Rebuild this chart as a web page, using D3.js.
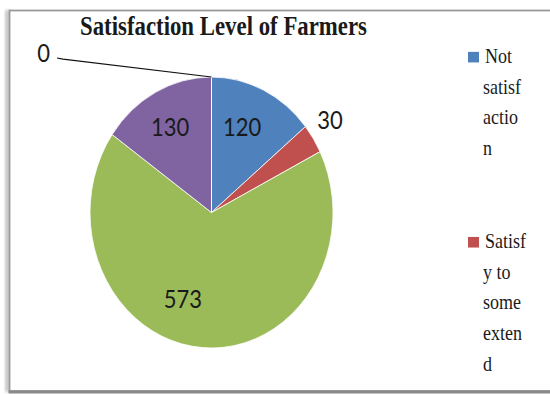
<!DOCTYPE html>
<html>
<head>
<meta charset="utf-8">
<script src="https://cdn.jsdelivr.net/npm/d3@7"></script>
<style>
  html, body { margin: 0; padding: 0; background: #fff; }
  svg { display: block; }
</style>
</head>
<body>
<svg id="chart" width="550" height="394"></svg>
<script>
// Survey counts, one per satisfaction category (clockwise from 12 o'clock)
const categories = ["Not satisfaction", "Satisfy to some extend", "Satisfied", "Highly satisfied", "No response"];
const values = [120, 30, 573, 130, 0];
const colors = ["#4F81BD", "#C0504D", "#9BBB59", "#8064A2", "#F79646"];
const title = "Satisfaction Level of Farmers";

const W = 550, H = 394;
const ky = 1.115;               // the whole chart is drawn slightly stretched vertically
const cx = 211.5, cy = 190.6, r = 121.5;
const frameBottom = 392;

const svg = d3.select("#chart");

// frame with a soft shadow on the left
const defs = svg.append("defs");
defs.append("filter").attr("id", "soft")
  .append("feGaussianBlur").attr("stdDeviation", 1.6);
svg.append("rect").attr("x", 5).attr("y", 10).attr("width", 5).attr("height", 382)
  .attr("fill", "#c8c8c8").attr("filter", "url(#soft)");
svg.append("rect").attr("x", 9.5).attr("y", 10.5).attr("width", W).attr("height", frameBottom - 11.5)
  .attr("fill", "#fff").attr("stroke", "#9a9a9a").attr("stroke-width", 1.8);
svg.append("line").attr("x1", 8.5).attr("x2", W).attr("y1", frameBottom).attr("y2", frameBottom)
  .attr("stroke", "#8a8a8a").attr("stroke-width", 3);

const g = svg.append("g").attr("transform", `scale(1,${ky})`);

// title
g.append("text")
  .attr("x", 223.5).attr("y", 31.4)
  .attr("text-anchor", "middle")
  .attr("font-family", "'Liberation Serif', 'Times New Roman', serif")
  .attr("font-weight", "bold")
  .attr("font-size", 24)
  .attr("textLength", 287).attr("lengthAdjust", "spacingAndGlyphs")
  .attr("fill", "#1a1a1a")
  .text(title);

// pie
const arcs = d3.pie().sort(null).value(d => d)(values);
const arc = d3.arc().innerRadius(0).outerRadius(r);
const pieG = g.append("g").attr("transform", `translate(${cx},${cy})`);
pieG.selectAll("path").data(arcs).join("path")
  .attr("d", arc)
  .attr("fill", (d, i) => colors[i])
  .attr("stroke", "#fff")
  .attr("stroke-width", 0.8)
  .attr("vector-effect", "non-scaling-stroke");

// data labels: angle shift (deg) from slice middle and radius factor
const labelPlace = [
  { shift: -3.6, k: 0.68 },
  { shift: -1.9, k: 1.19 },
  { shift: 16, k: 0.68 },
  { shift: -1, k: 0.716 },
  { dx: -168, dy: -142.6 }
];
function labelPos(d, i) {
  const p = labelPlace[i];
  const mid = (d.startAngle + d.endAngle) / 2;
  if (p.dx !== undefined) {
    const ex = r * Math.sin(mid), ey = -r * Math.cos(mid);
    return [p.dx, p.dy, ex, ey];
  }
  const a = mid + p.shift * Math.PI / 180;
  const rr = r * p.k;
  return [rr * Math.sin(a), -rr * Math.cos(a)];
}

arcs.forEach((d, i) => {
  const pos = labelPos(d, i);
  if (pos.length === 4) {
    // leader line from label to the slice edge
    const [lx, ly, ex, ey] = pos;
    pieG.append("path")
      .attr("d", d3.line()([[lx + 13.5, ly + 4], [lx + 19.5, ly + 5], [ex, ey]]))
      .attr("fill", "none").attr("stroke", "#111").attr("stroke-width", 1.1)
      .attr("vector-effect", "non-scaling-stroke");
  }
  pieG.append("text")
    .attr("x", pos[0]).attr("y", pos[1])
    .attr("dy", "0.36em")
    .attr("text-anchor", "middle")
    .attr("font-family", "Lato, 'Open Sans', sans-serif")
    .attr("font-size", 22)
    .attr("fill", "#1a1a1a")
    .text(values[i]);
});

// legend with narrow wrapped labels; items past the frame's bottom are not shown
const legendFont = "'Liberation Serif', 'Times New Roman', serif";
const legendSize = 18, legendMaxW = 42.5, lineH = 27.5, itemStep = 166;
const probe = g.append("text").attr("font-family", legendFont).attr("font-size", legendSize)
  .attr("visibility", "hidden");
const measure = s => { probe.text(s); return probe.node().getComputedTextLength(); };

function wrap(text) {
  const lines = [];
  let line = "";
  for (const w of text.split(" ")) {
    const cand = line ? line + " " + w : w;
    if (measure(cand) <= legendMaxW) { line = cand; continue; }
    if (line) lines.push(line);
    line = "";
    if (measure(w) <= legendMaxW) { line = w; continue; }
    let chunk = "";
    for (const ch of w) {
      if (measure(chunk + ch) <= legendMaxW) chunk += ch;
      else { lines.push(chunk); chunk = ch; }
    }
    line = chunk;
  }
  if (line) lines.push(line);
  return lines;
}

const maxBaseline = (frameBottom - 6) / ky;
categories.forEach((c, i) => {
  const base = 56.5 + i * itemStep;
  if (base > maxBaseline) return;
  g.append("rect")
    .attr("x", 468).attr("y", base - 10)
    .attr("width", 11).attr("height", 9.5)
    .attr("fill", colors[i]);
  const t = g.append("text")
    .attr("font-family", legendFont).attr("font-size", legendSize)
    .attr("fill", "#1a1a1a");
  wrap(c).forEach((ln, j) => {
    const y = base + j * lineH;
    if (y > maxBaseline) return;
    t.append("tspan").attr("x", j === 0 ? 485 : 483).attr("y", y).text(ln);
  });
});
probe.remove();
</script>
</body>
</html>
